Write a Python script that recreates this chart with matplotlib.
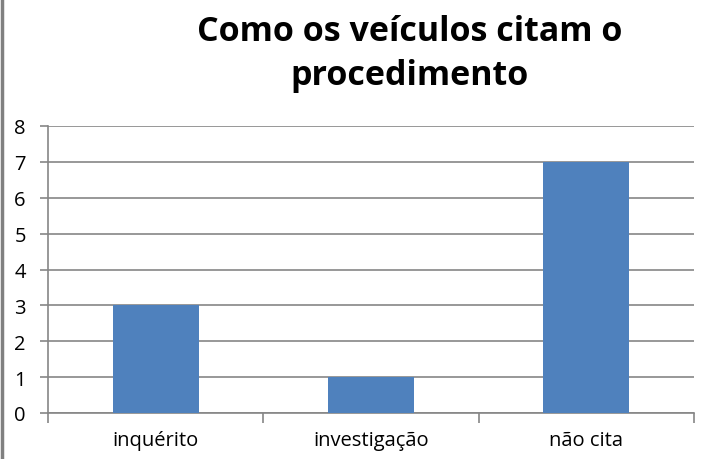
import numpy as np
import matplotlib.pyplot as plt
from matplotlib.lines import Line2D

categories = ['inquérito', 'investigação', 'não cita']
values = [3, 1, 7]
yticks = list(range(0, 9))

title = 'Como os veículos citam o\nprocedimento'
bar_color = '#4F81BD'
grid_color = '#868686'

plt.rcParams['font.family'] = ['Open Sans', 'DejaVu Sans']

W, H = 714, 460
fig = plt.figure(figsize=(W / 100, H / 100), dpi=100)
ax = fig.add_axes([48 / W, 1 - 414 / H, (694 - 48) / W, (414 - 127) / H])

x = np.arange(len(categories))
ax.bar(x, values, width=0.4, color=bar_color, zorder=3)

ax.set_xlim(-0.5, len(categories) - 0.5)
ax.set_ylim(0, 8)
ax.set_yticks(yticks)
ax.set_yticklabels([str(t) for t in yticks], fontsize=14.5)
ax.set_xticks(x)
ax.set_xticklabels(categories, fontsize=14.5)
ax.tick_params(axis='x', length=0, pad=12)
ax.tick_params(axis='y', length=6, width=1.2, color=grid_color, pad=10)

# category boundary ticks
ax.set_xticks(np.arange(-0.5, len(categories)), minor=True)
ax.tick_params(axis='x', which='minor', length=7, width=1.2, color=grid_color)

ax.yaxis.grid(True, color=grid_color, linewidth=1.2, zorder=0)
for side in ['top', 'right']:
    ax.spines[side].set_visible(False)
for side in ['left', 'bottom']:
    ax.spines[side].set_color(grid_color)
    ax.spines[side].set_linewidth(1.2)

fig.text(410 / W, 1 - 54 / H, title, ha='center', va='center',
         fontsize=24.5, fontweight='bold', linespacing=1.4)

# gray frame edge on the left
fig.add_artist(Line2D([1.5 / W, 1.5 / W], [0, 1], color='#808080', linewidth=2.5,
                      transform=fig.transFigure))

fig.savefig('out.png', dpi=100)
